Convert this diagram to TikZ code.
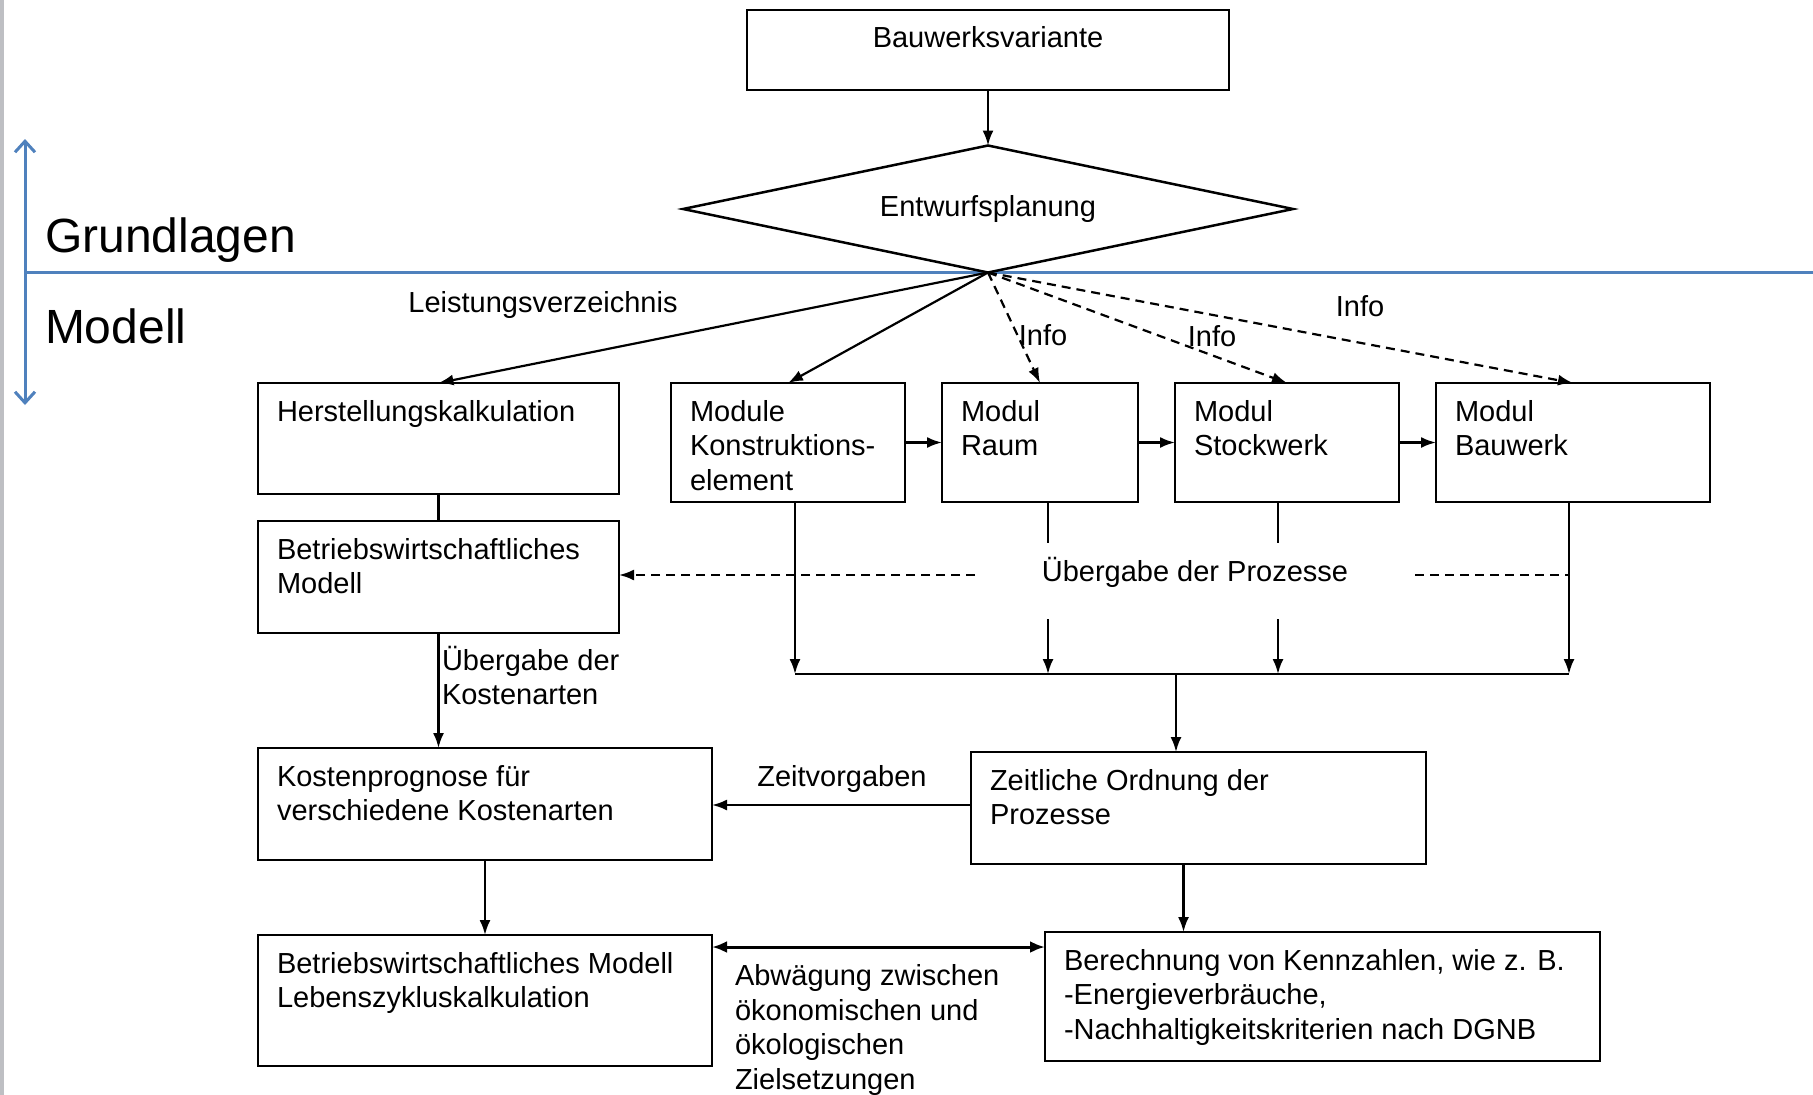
\documentclass[tikz,border=0pt]{standalone}
\usepackage{fontspec}
\setmainfont{Liberation Sans}
\usepackage{xcolor}
\usetikzlibrary{arrows.meta,shapes.geometric}
\definecolor{axisblue}{HTML}{4F81BD}
\definecolor{stripgray}{HTML}{BEBFC3}
\newcommand{\boxtext}[3]{\parbox[t][#2][t]{#1}{\raggedright\rule{0pt}{38pt}#3}}
\newcommand{\boxtextc}[3]{\parbox[t][#2][t]{#1}{\centering\rule{0pt}{37pt}#3}}
\tikzstyle{modbox}    = [draw, rectangle, line width=2.5pt, anchor=north west, inner xsep=19pt, inner ysep=0pt, outer sep=0pt]
\tikzstyle{decision}  = [draw, diamond, line width=2.5pt, aspect=4.8, minimum width=610pt, minimum height=127pt, inner sep=0pt, outer sep=0pt]
\tikzstyle{lbl}       = [inner sep=0pt, outer sep=0pt]
\tikzstyle{plainline} = [line width=2.2pt]
\tikzstyle{arrow}     = [line width=2.2pt, -{Latex[length=15pt,width=11pt]}]
\tikzstyle{dasharrow} = [arrow, dash pattern=on 9pt off 6pt]
\tikzstyle{dashline}  = [plainline, dash pattern=on 9pt off 6pt]
\tikzstyle{dblarrow}  = [line width=3pt, {Latex[length=15pt,width=12pt]}-{Latex[length=15pt,width=12pt]}]
\tikzstyle{bluerule}  = [axisblue, line width=3pt]

\begin{document}
\begin{tikzpicture}[x=1pt, y=-1pt, font=\fontsize{29pt}{34.7pt}\selectfont]
		\useasboundingbox (0,0) rectangle (1813,1095);
		\fill[white] (0,0) rectangle (1813,1095);
		\fill[stripgray] (0,0) rectangle (4,1095);

		% Grundlagen / Modell
		\draw[bluerule] (25,272) -- (1813,272);
		\draw[bluerule, {Straight Barb[length=11pt,width=20pt]}-{Straight Barb[length=11pt,width=20pt]}] (25,139) -- (25,405);
		\node[lbl, anchor=base west, font=\fontsize{48pt}{57pt}\selectfont] (grund) at (45,252) {Grundlagen};
		\node[lbl, anchor=base west, font=\fontsize{48pt}{57pt}\selectfont] (modell) at (45,343) {Modell};

		% boxes
		\node[modbox] (bauw)  at (747,10)   {\boxtextc{444pt}{80pt}{Bauwerksvariante}};
		\node[decision] (ent) at (988,209)  {Entwurfsplanung};
		\node[modbox] (herst) at (258,383)  {\boxtext{323pt}{111pt}{Herstellungskalkulation}};
		\node[modbox] (modk)  at (671,383)  {\boxtext{196pt}{119pt}{Module\\Konstruktions-\\element}};
		\node[modbox] (raum)  at (942,383)  {\boxtext{158pt}{119pt}{Modul\\Raum}};
		\node[modbox] (stock) at (1175,383) {\boxtext{186pt}{119pt}{Modul\\Stockwerk}};
		\node[modbox] (bauwk) at (1436,383) {\boxtext{236pt}{119pt}{Modul\\Bauwerk}};
		\node[modbox] (bwm)   at (258,521)  {\boxtext{323pt}{112pt}{Betriebswirtschaftliches\\Modell}};
		\node[modbox] (kost)  at (258,748)  {\boxtext{416pt}{112pt}{Kostenprognose für\\verschiedene Kostenarten}};
		\node[modbox] (zeit)  at (971,752)  {\boxtext{417pt}{112pt}{Zeitliche Ordnung der\\Prozesse}};
		\node[modbox] (leb)   at (258,935)  {\boxtext{416pt}{131pt}{Betriebswirtschaftliches Modell\\Lebenszykluskalkulation}};
		\node[modbox] (bere)  at (1045,932) {\boxtext{517pt}{129pt}{Berechnung von Kennzahlen, wie z. B.\\-Energieverbräuche,\\-Nachhaltigkeitskriterien nach DGNB}};

		% labels
		\node[lbl] (lvlbl) at (543,305) {Leistungsverzeichnis};
		\node[lbl] (info1) at (1043,335) {Info};
		\node[lbl] (info2) at (1212,336) {Info};
		\node[lbl] (info3) at (1360,306) {Info};
		\node[lbl, minimum width=440pt, minimum height=76pt, text height=12pt, text depth=12pt] (prozlbl) at (1195,581) {Übergabe der Prozesse};
		\node[lbl, anchor=north west, align=left] (kalbl) at (442,646) {\strut Übergabe der\\Kostenarten};
		\node[lbl] (zvlbl) at (842,779) {Zeitvorgaben};
		\node[lbl, anchor=north west, align=left] (ablbl) at (735,961) {\strut Abwägung zwischen\\ökonomischen und\\ökologischen\\Zielsetzungen};

		% coordinates
		\coordinate (bus) at (0,674);
		\coordinate (busz) at (1176,674);
		\coordinate (mk) at ([xshift=7pt]modk.south);
		\coordinate (mr) at ([xshift=8pt]raum.south);
		\coordinate (ms) at ([xshift=-9pt]stock.south);
		\coordinate (mb) at ([xshift=-4pt]bauwk.south);
		\coordinate (zw) at ([yshift=3pt]zeit.west);
		\coordinate (zb) at ([xshift=-15pt]zeit.south);
		\coordinate (dl) at ([yshift=6pt]prozlbl.west);
		\coordinate (dr) at ([yshift=6pt]prozlbl.east);
		\coordinate (ab) at ([yshift=-12pt]leb.north east);

		% connectors
		\draw[arrow] (bauw.south) -- (ent.north);
		\draw[arrow] (ent.south) -- (herst.north);
		\draw[arrow] (ent.south) -- (modk.north);
		\draw[dasharrow] (ent.south) -- (raum.north);
		\draw[dasharrow] (ent.south) -- (stock.north);
		\draw[dasharrow] (ent.south) -- (bauwk.north);

		\draw[arrow] (modk.east) -- (raum.west);
		\draw[arrow] (raum.east) -- (stock.west);
		\draw[arrow] (stock.east) -- (bauwk.west);

		\draw[plainline] (herst.south) -- (bwm.north);
		\draw[arrow] (mk) -- (mk |- bus);
		\draw[plainline] (mr) -- (mr |- prozlbl.north);
		\draw[arrow] (mr |- prozlbl.south) -- (mr |- bus);
		\draw[plainline] (ms) -- (ms |- prozlbl.north);
		\draw[arrow] (ms |- prozlbl.south) -- (ms |- bus);
		\draw[arrow] (mb) -- (mb |- bus);
		\draw[plainline] (mk |- bus) -- (mb |- bus);

		\draw[dasharrow] (dl) -- (dl -| bwm.east);
		\draw[dashline] (dr) -- (dr -| mb);

		\draw[arrow] (busz) -- (busz |- zeit.north);
		\draw[arrow] (bwm.south) -- (bwm.south |- kost.north);
		\draw[arrow] (zw) -- (zw -| kost.east);
		\draw[arrow] (kost.south) -- (kost.south |- leb.north);
		\draw[arrow] (zb) -- (zb |- bere.north);
		\draw[dblarrow] (ab) -- (ab -| bere.west);
	\end{tikzpicture}
\end{document}
